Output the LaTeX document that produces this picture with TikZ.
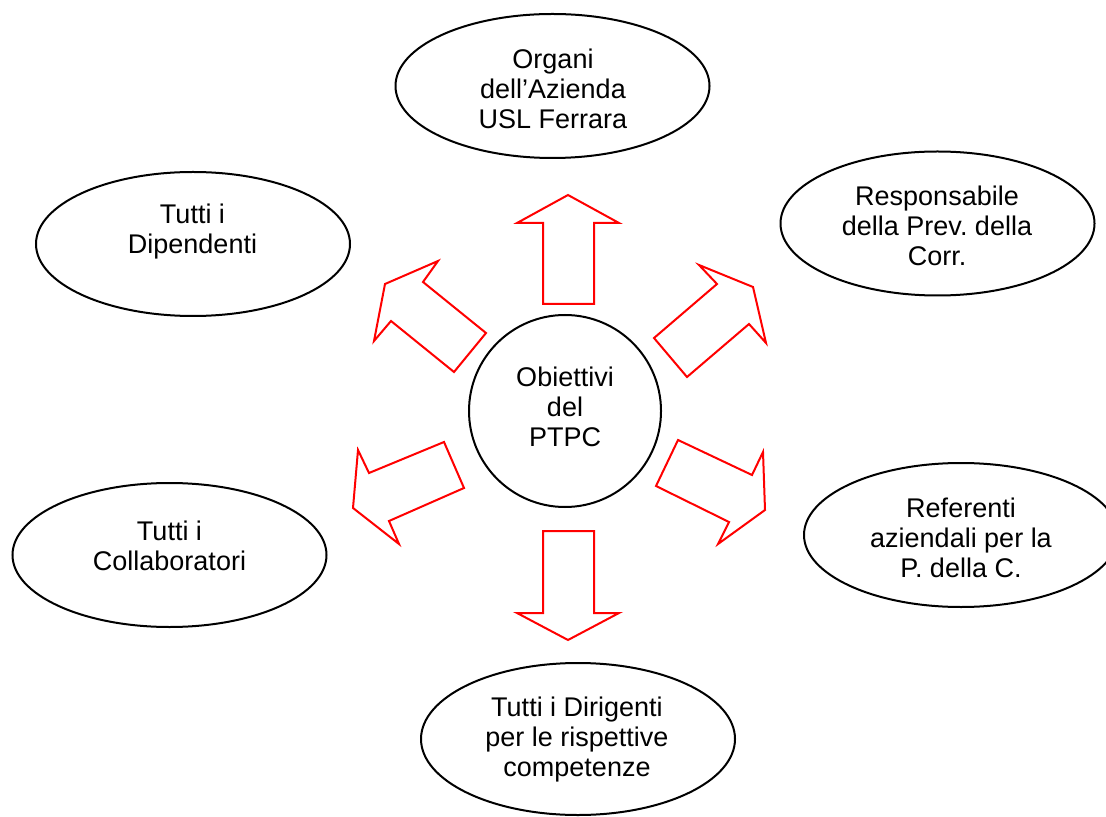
\documentclass[tikz,border=0pt]{standalone}
\usepackage{fontspec}
\setmainfont{Liberation Sans}
\usetikzlibrary{shapes.geometric}
\frenchspacing
\tikzset{
  oval/.style={draw=black, line width=1pt, ellipse, inner sep=0pt, minimum width=157pt, minimum height=72pt},
  disc/.style={draw=black, line width=1pt, circle, inner sep=0pt, minimum size=96pt},
  lbl/.style={align=center, inner sep=0pt, font=\fontsize{13.5}{15}\selectfont},
  blockarrow/.style={draw=red, line width=1pt, line join=miter, fill=white},
}
\begin{document}
\begin{tikzpicture}[x=0.5pt, y=-0.5pt]
\useasboundingbox (0,0) rectangle (1106,817);
\clip (0,0) rectangle (1106,817);
% ellipses
\node[oval] (org) at (552.5,86) {};
\node[oval] (dip) at (193,244) {};
\node[oval] (resp) at (937.5,223.5) {};
\node[oval] (ref) at (961,535) {};
\node[oval] (col) at (169.5,555) {};
\node[oval, minimum height=76pt] (dir) at (578,739) {};
\node[disc] (ptpc) at (565,411) {};
% texts
\node[lbl] (torg) at (553,89) {Organi\\dell’Azienda\\USL Ferrara};
\node[lbl] (tdip) at (192.5,232) {Tutti i\\Dipendenti};
\node[lbl] (tresp) at (937,226) {Responsabile\\della Prev. della\\Corr.};
\node[lbl] (tref) at (961,538) {Referenti\\aziendali per la\\P. della C.};
\node[lbl] (tcol) at (169.5,546) {Tutti i\\Collaboratori};
\node[lbl] (tdir) at (577,740) {Tutti i Dirigenti\\per le rispettive\\competenze};
\node[lbl] (tptpc) at (565,407) {Obiettivi\\del\\PTPC};
% block arrows
\draw[blockarrow] (568,195) -- (619,223) -- (594,223) -- (594,304) -- (543,304) -- (543,223) -- (517,223) -- cycle;
\draw[blockarrow] (438,261) -- (423,282) -- (486,333) -- (454,372) -- (391,321) -- (374,341) -- (385,284) -- cycle;
\draw[blockarrow] (699,265) -- (753,287) -- (766,343) -- (749,324) -- (687,377) -- (654,338) -- (717,284) -- cycle;
\draw[blockarrow] (444,442) -- (464,488) -- (389,521) -- (399,544) -- (353,508) -- (358,450) -- (369,473) -- cycle;
\draw[blockarrow] (678,440) -- (752,475) -- (763,452) -- (765,510) -- (718,544) -- (729,522) -- (656,486) -- cycle;
\draw[blockarrow] (543,531) -- (594,531) -- (594,613) -- (619,613) -- (568,640) -- (517,613) -- (543,613) -- cycle;
\end{tikzpicture}
\end{document}
